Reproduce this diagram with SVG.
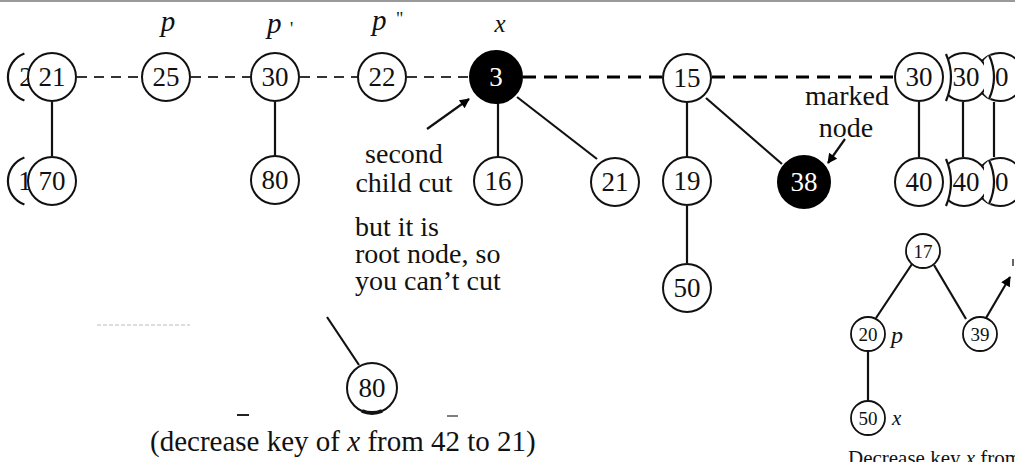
<svg xmlns="http://www.w3.org/2000/svg" width="1015" height="462" viewBox="0 0 1015 462">
<defs>
<marker id="ah" viewBox="0 0 10 10" refX="9" refY="5" markerWidth="5" markerHeight="4.5" orient="auto" markerUnits="strokeWidth">
<path d="M0,0 L10,5 L0,10 z" fill="#000"/>
</marker>
</defs>
<style>
.n circle{fill:#fff;stroke:#111;stroke-width:2}
.n text{font-family:"Liberation Serif","Times New Roman",serif;font-size:27px;text-anchor:middle;fill:#111}
.b circle{fill:#000;stroke:#000}
.b text{fill:#fff}
.s circle{stroke-width:1.8}
.s text{font-size:19px}
.lbl{font-family:"Liberation Serif","Times New Roman",serif;font-style:italic;fill:#111}
.ann{font-family:"Liberation Serif","Times New Roman",serif;fill:#111}
.e{stroke:#111;fill:none;stroke-width:2.2}
.dg{stroke:#333;stroke-width:2;stroke-dasharray:10 7;fill:none}
.db{stroke:#000;stroke-width:3;stroke-dasharray:13 8;fill:none}
.art{stroke:#111;fill:none}
.cover{fill:#fff;stroke:none}
</style>
<rect width="1015" height="462" fill="#fff"/>
<line x1="0" y1="1" x2="1015" y2="1" stroke="#9a9a9a" stroke-width="2"/>

<g id="connectors">
<line class="dg" x1="77" y1="77" x2="141" y2="77"/>
<line class="dg" x1="191" y1="77" x2="250" y2="77"/>
<line class="dg" x1="300" y1="77" x2="357" y2="77"/>
<line class="dg" x1="407" y1="77" x2="470" y2="77"/>
<line class="db" x1="523" y1="77" x2="662" y2="77"/>
<line class="db" x1="712" y1="77" x2="894" y2="77"/>
<line class="e" x1="52" y1="102" x2="52" y2="156" stroke="#444"/>
<line class="e" x1="275" y1="102" x2="275" y2="156" stroke-width="2.5"/>
<line class="e" x1="498" y1="103" x2="498" y2="157"/>
<line class="e" x1="517" y1="97" x2="597" y2="159" stroke-width="2.5"/>
<line class="e" x1="687" y1="102" x2="687" y2="157" stroke-width="4"/>
<line class="e" x1="687" y1="206" x2="687" y2="263" stroke-width="4"/>
<line class="e" x1="706" y1="98" x2="782" y2="164" stroke-width="2.5"/>
<line class="e" x1="919" y1="102" x2="919" y2="157"/>
<line class="e" x1="963" y1="102" x2="963" y2="157"/>
<line class="e" x1="994" y1="102" x2="994" y2="157"/>
<line class="e" x1="327" y1="317" x2="359" y2="365"/>
<line class="e" x1="912" y1="264" x2="876" y2="318" stroke-width="2"/>
<line class="e" x1="934" y1="265" x2="966" y2="319" stroke-width="2"/>
<line class="e" x1="868" y1="351" x2="868" y2="401" stroke-width="1.8"/>
<line class="e" x1="427" y1="129" x2="469" y2="99" stroke-width="2.5" marker-end="url(#ah)"/>
<line class="e" x1="845" y1="139" x2="828" y2="163" stroke-width="2.5" marker-end="url(#ah)"/>
<line class="e" x1="986" y1="318" x2="1010" y2="277" stroke-width="2.5" marker-end="url(#ah)"/>
</g>

<g id="node-21-back"><path class="art" stroke-width="2.2" d="M24.4,53.5 A25,25 0 0 0 24.4,100.5"/><text class="ann" x="26" y="86" style="font-size:27px" text-anchor="middle">2</text></g>
<g id="node-70-back"><path class="art" stroke-width="2.2" d="M24.4,157.5 A25,25 0 0 0 24.4,204.5"/><text class="ann" x="25" y="190" style="font-size:27px" text-anchor="middle">1</text></g>
<g id="node-21" class="n"><circle cx="52" cy="77" r="24"/><text x="52" y="86">21</text></g>
<g id="node-70" class="n"><circle cx="52" cy="181" r="24"/><text x="52" y="190">70</text></g>
<g id="node-25" class="n"><circle cx="166" cy="77" r="24"/><text x="166" y="86">25</text></g>
<g id="node-30a" class="n"><circle cx="275" cy="77" r="24"/><text x="275" y="86">30</text></g>
<g id="node-80a" class="n"><circle cx="275" cy="180" r="24"/><text x="275" y="189">80</text></g>
<g id="node-22" class="n"><circle cx="382" cy="77" r="24"/><text x="382" y="86">22</text></g>
<g id="node-3" class="n b"><circle cx="496" cy="77" r="26"/><text x="496" y="86">3</text></g>
<g id="node-16" class="n"><circle cx="498" cy="181" r="24"/><text x="498" y="190">16</text></g>
<g id="node-21b" class="n"><circle cx="615" cy="182" r="24"/><text x="615" y="191">21</text></g>
<g id="node-15" class="n"><circle cx="687" cy="78" r="24"/><text x="687" y="87">15</text></g>
<g id="node-19" class="n"><circle cx="687" cy="181" r="24"/><text x="687" y="190">19</text></g>
<g id="node-50" class="n"><circle cx="687" cy="288" r="24"/><text x="687" y="297">50</text></g>
<g id="node-38" class="n b"><circle cx="804" cy="182" r="26"/><text x="804" y="191">38</text></g>

<g id="node-30c" class="n"><circle cx="1000" cy="77" r="24"/><text x="995" y="86">30</text></g>
<g id="node-40c" class="n"><circle cx="1000" cy="182" r="24"/><text x="995" y="191">40</text></g>
<g id="node-30b" class="n"><circle cx="964" cy="77" r="24"/><text x="966" y="86">30</text></g>
<g id="node-40b" class="n"><circle cx="964" cy="182" r="24"/><text x="966" y="191">40</text></g>
<path class="cover" d="M989,58 L989,58 Q999,77 989,96 Z"/>
<path class="cover" d="M989,163 Q999,182 989,201 Z"/>
<path class="cover" d="M984,60 L990,54 Q1000,77 990,100 L984,94 Z"/>
<path class="cover" d="M984,165 L990,159 Q1000,182 990,205 L984,199 Z"/>
<path class="art" stroke-width="2.2" d="M989,55 Q999,77 989,99"/>
<path class="art" stroke-width="2.2" d="M989,160 Q999,182 989,204"/>
<path class="cover" d="M935,52 L946,52 Q956,77 946,102 L935,102 Z"/>
<path class="cover" d="M935,157 L946,157 Q956,182 946,207 L935,207 Z"/>
<path class="art" stroke-width="2.2" d="M946,54 Q956,77 946,101"/>
<path class="art" stroke-width="2.2" d="M946,159 Q956,182 946,206"/>
<g id="node-30" class="n"><circle cx="919" cy="77" r="24"/><text x="919" y="86">30</text></g>
<g id="node-40" class="n"><circle cx="919" cy="182" r="24"/><text x="919" y="191">40</text></g>

<g id="node-80b" class="n"><circle cx="372" cy="388" r="25"/><text x="372" y="397">80</text></g>
<path class="art" stroke-width="4" d="M362,411 Q372,415 382,411"/>

<g id="node-17" class="n s"><circle cx="923" cy="251" r="17"/><text x="923" y="258">17</text></g>
<g id="node-20" class="n s"><circle cx="868" cy="334" r="17"/><text x="868" y="341">20</text></g>
<g id="node-39" class="n s"><circle cx="980" cy="334" r="17"/><text x="980" y="341">39</text></g>
<g id="node-50b" class="n s"><circle cx="868" cy="418" r="17"/><text x="868" y="425">50</text></g>

<g id="labels">
<text class="lbl" x="168" y="31" text-anchor="middle" style="font-size:29px">p</text>
<text class="lbl" x="267" y="33" style="font-size:29px">p<tspan x="290" y="35" style="font-size:18px;font-style:normal">'</tspan></text>
<text class="lbl" x="372" y="30" style="font-size:29px">p<tspan x="396" y="25" style="font-size:18px;font-style:normal">"</tspan></text>
<text class="lbl" x="500" y="32" text-anchor="middle" style="font-size:25px">x</text>
<text class="lbl" x="891" y="343" style="font-size:24px">p</text>
<text class="lbl" x="892" y="425" style="font-size:21px">x</text>
<text class="ann" x="404" y="163" text-anchor="middle" style="font-size:28px">second</text>
<text class="ann" x="404" y="192" text-anchor="middle" style="font-size:28px">child cut</text>
<text class="ann" x="355" y="236" style="font-size:28px">but it is</text>
<text class="ann" x="355" y="263" style="font-size:28px">root node, so</text>
<text class="ann" x="355" y="290" style="font-size:28px">you can’t cut</text>
<text class="ann" x="847" y="105" text-anchor="middle" style="font-size:28px">marked</text>
<text class="ann" x="846" y="137" text-anchor="middle" style="font-size:28px">node</text>
<text class="ann" x="150" y="451" style="font-size:29px">(decrease key of <tspan font-style="italic">x</tspan> from 42 to 21)</text>
<text class="ann" x="848" y="465" style="font-size:21px">Decrease key <tspan font-style="italic">x</tspan> from</text>
</g>

<g id="artifacts">
<line x1="97" y1="325" x2="190" y2="325" stroke="#bbb" stroke-width="1" stroke-dasharray="4 2"/>
<line x1="237" y1="415" x2="249" y2="415" stroke="#222" stroke-width="2"/>
<line x1="447" y1="416" x2="458" y2="416" stroke="#555" stroke-width="1.5"/>
<line x1="1013" y1="259" x2="1013" y2="266" stroke="#333" stroke-width="1.5"/>
</g>
</svg>
